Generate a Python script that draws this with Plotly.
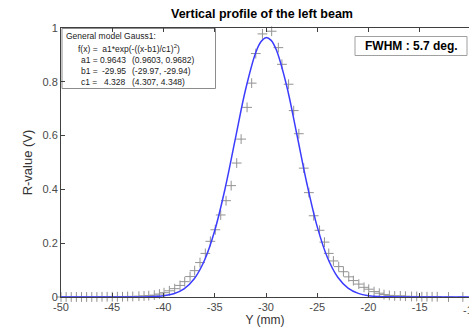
import plotly.graph_objects as go

# Measured data points (Y in mm, R-value in V)
data_x = [-50.0, -49.5, -49.0, -48.5, -48.0, -47.5, -47.0, -46.5, -46.0, -45.5,
          -45.0, -44.5, -44.0, -43.5, -43.0, -42.4,
          -41.9, -41.44, -40.9, -40.4, -39.95, -39.43, -38.91, -38.39, -37.93,
          -37.41, -36.96, -36.44, -35.92, -35.43, -34.95, -34.42, -33.9, -33.4,
          -32.86, -32.43, -31.85, -31.4, -31.0, -30.35,
          -29.45, -28.8, -28.45, -27.8, -27.3, -26.8, -26.32, -25.82, -25.35,
          -24.78, -24.3, -23.88, -23.43, -22.91, -22.45, -21.93, -21.48, -20.95,
          -20.44, -19.98, -19.46, -18.95, -18.49, -17.97, -17.45, -16.9, -16.4,
          -15.8, -15.3, -14.8, -14.3, -13.8, -13.3, -12.2, -10.8]
data_y = [0.0, 0.0, 0.0, 0.0, 0.0, 0.0, 0.0, 0.0, 0.001, 0.001,
          0.001, 0.001, 0.001, 0.002, 0.002, 0.003,
          0.004, 0.005, 0.007, 0.011, 0.016, 0.023, 0.031, 0.043, 0.057,
          0.076, 0.098, 0.128, 0.162, 0.207, 0.250, 0.305, 0.358, 0.414,
          0.498, 0.587, 0.705, 0.795, 0.905, 0.978,
          0.988, 0.927, 0.865, 0.791, 0.693, 0.607, 0.479, 0.388, 0.302,
          0.248, 0.204, 0.162, 0.134, 0.113, 0.094, 0.075, 0.061, 0.048,
          0.036, 0.029, 0.020, 0.014, 0.009, 0.006, 0.004, 0.004, 0.003,
          0.002, 0.002, 0.001, 0.001, 0.001, 0.001, 0.0, 0.0]

# Fitted Gauss1 curve
fit_x = [-50, -44, -42, -41, -40, -39, -38, -37, -36, -35, -34, -33, -32, -31,
         -30.5, -30, -29.5, -29, -28, -27, -26, -25, -24, -23, -22, -21, -20,
         -19, -18, -16, -10]
fit_y = [0.0, 0.0, 0.0004, 0.0014, 0.0044, 0.0122, 0.0303, 0.0679, 0.1366,
         0.2472, 0.4017, 0.5869, 0.7705, 0.9092, 0.9489, 0.9642, 0.9539,
         0.9189, 0.7871, 0.6060, 0.4192, 0.2607, 0.1457, 0.0732, 0.0330,
         0.0134, 0.0049, 0.0016, 0.0005, 0.0, 0.0]

x_ticks = [-50, -45, -40, -35, -30, -25, -20, -15]
y_ticks = [0, 0.2, 0.4, 0.6, 0.8, 1]

fig = go.Figure()
fig.add_trace(go.Scatter(
    x=data_x, y=data_y, mode="markers",
    marker=dict(symbol="cross-thin", size=7, line=dict(color="#939393", width=1)),
    showlegend=False, cliponaxis=False))
fig.add_trace(go.Scatter(
    x=fit_x, y=fit_y, mode="lines", line=dict(color="#3c3cff", width=1.5, shape="spline", smoothing=1.0),
    showlegend=False))

axis_font = dict(family="Liberation Sans, Arial, sans-serif", size=11, color="#4a4a4a")
fig.update_xaxes(range=[-50, -10.2], tickvals=x_ticks, ticktext=[str(v) for v in x_ticks],
                 ticks="inside", ticklen=4, tickcolor="#404040", showline=True,
                 linecolor="#404040", linewidth=1, mirror="ticks", showgrid=False,
                 zeroline=False, tickfont=axis_font,
                 title=dict(text="Y (mm)", font=dict(family="Liberation Sans, Arial, sans-serif", size=12, color="#333"), standoff=2))
fig.update_yaxes(range=[0, 1], tickvals=y_ticks, ticktext=["0", "0.2", "0.4", "0.6", "0.8", "1"],
                 ticks="inside", ticklen=4, tickcolor="#404040", showline=True,
                 linecolor="#404040", linewidth=1, mirror=False, showgrid=False,
                 zeroline=False, tickfont=axis_font,
                 title=dict(text="R-value (V)", font=dict(family="Liberation Sans, Arial, sans-serif", size=13, color="#333"), standoff=6))

small = dict(family="Liberation Sans, Arial, sans-serif", size=8.5, color="#222")
ann = []
def txt(x, y, s, anchor="left", font=small):
    ann.append(dict(xref="paper", yref="paper", x=(x - 61) / 408, y=(297 - y) / 269,
                    text=s, showarrow=False, xanchor=anchor, yanchor="middle", font=font))

txt(64, 36, "General model Gauss1:")
txt(76, 48, "f(x) =  a1*exp(-((x-b1)/c1)<sup>2</sup>)")
txt(79, 59.5, "a1 =")
txt(79, 70.5, "b1 =")
txt(79, 81.5, "c1 =")
txt(127.5, 59.5, "0.9643", "right")
txt(127.5, 70.5, "-29.95", "right")
txt(127.5, 81.5, "4.328", "right")
txt(129.5, 59.5, "(0.9603, 0.9682)")
txt(129.5, 70.5, "(-29.97, -29.94)")
txt(129.5, 81.5, "(4.307, 4.348)")
# -10 tick label, mostly cut off at right edge
txt(471, 310, "-10", "center", axis_font)
txt(411, 46, "<b>FWHM : 5.7 deg.</b>", "center",
    dict(family="Liberation Sans, Arial, sans-serif", size=12, color="#000"))
txt(262, 14, "<b>Vertical profile of the left beam</b>", "center",
    dict(family="Liberation Sans, Arial, sans-serif", size=12.5, color="#000"))

shapes = [
    dict(type="rect", xref="paper", yref="paper", x0=(62 - 61) / 408, x1=(215.5 - 61) / 408,
         y0=(297 - 88.5) / 269, y1=(297 - 28.5) / 269, line=dict(color="#8c8c8c", width=1),
         fillcolor="white", layer="below"),
    dict(type="rect", xref="paper", yref="paper", x0=(355 - 61) / 408, x1=(467 - 61) / 408,
         y0=(297 - 55.5) / 269, y1=(297 - 36.5) / 269, line=dict(color="#a0a0a0", width=1),
         fillcolor="white", layer="above"),
]

fig.update_layout(width=469, height=333, margin=dict(l=61, r=0, t=28, b=36),
                  paper_bgcolor="white", plot_bgcolor="white",
                  annotations=ann, shapes=shapes)
fig.write_html("out.html")
